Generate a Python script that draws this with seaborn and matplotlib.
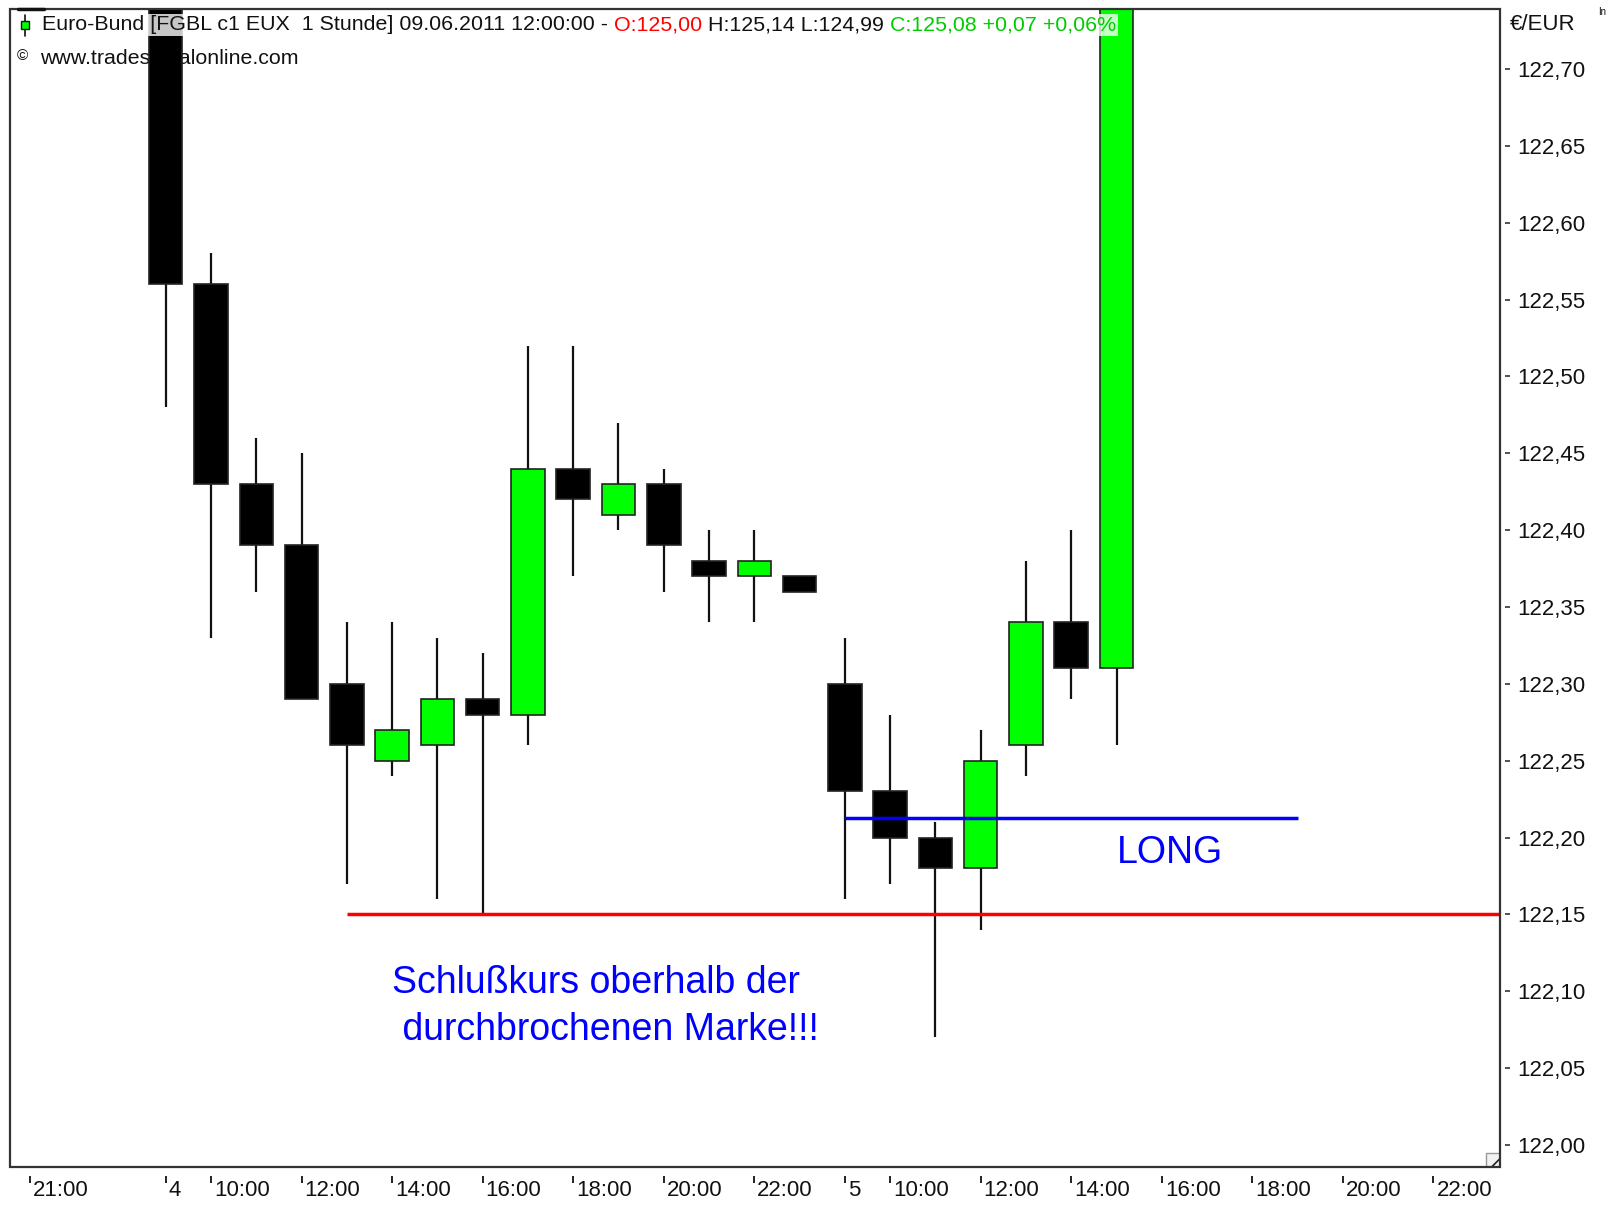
import matplotlib
matplotlib.use('Agg')
import matplotlib.pyplot as plt
from matplotlib.patches import Rectangle
from matplotlib.transforms import ScaledTranslation, Bbox
import seaborn as sns
import numpy as np

# Euro-Bund hourly bars (slot 0 = first bar of the 4th)
slots = list(range(22))
opens = [122.80, 122.56, 122.43, 122.39, 122.30, 122.25, 122.26, 122.29, 122.28, 122.44, 122.41,
         122.43, 122.38, 122.37, 122.37, 122.30, 122.23, 122.20, 122.18, 122.26, 122.34, 122.31]
highs = [122.82, 122.58, 122.46, 122.45, 122.34, 122.34, 122.33, 122.32, 122.52, 122.52, 122.47,
         122.44, 122.40, 122.40, 122.37, 122.33, 122.28, 122.21, 122.27, 122.38, 122.40, 122.82]
lows = [122.48, 122.33, 122.36, 122.29, 122.17, 122.24, 122.16, 122.15, 122.26, 122.37, 122.40,
        122.36, 122.34, 122.34, 122.36, 122.16, 122.17, 122.07, 122.14, 122.24, 122.29, 122.26]
closes = [122.56, 122.43, 122.39, 122.29, 122.26, 122.27, 122.29, 122.28, 122.44, 122.42, 122.43,
          122.39, 122.37, 122.38, 122.36, 122.23, 122.20, 122.18, 122.25, 122.34, 122.31, 122.80]

tick_slots = [-3, 0, 1, 3, 5, 7, 9, 11, 13, 15, 16, 18, 20, 22, 24, 26, 28]
tick_labels = ['21:00', '4', '10:00', '12:00', '14:00', '16:00', '18:00', '20:00', '22:00',
               '5', '10:00', '12:00', '14:00', '16:00', '18:00', '20:00', '22:00']
price_ticks = np.round(np.arange(122.00, 122.701, 0.05), 2)

# drawn levels
support_level = 122.15
support_start = 4
long_level = 122.2125
long_start, long_end = 15, 25

sns.set_theme(style='white')
plt.rcParams['font.family'] = ['Liberation Sans', 'DejaVu Sans']

W, H = 1615, 1209
fig = plt.figure(figsize=(W / 100, H / 100), dpi=100)
fig.patch.set_facecolor('white')
ax = fig.add_axes([10 / W, 1 - 1167 / H, 1490 / W, 1158 / H])
ax.set_facecolor('white')

xmin, xmax = -3.44, 29.47
ax.set_xlim(xmin, xmax)
ax.set_ylim(121.9857, 122.739)

# candles
o = np.array(opens)
c = np.array(closes)
body_colors = np.where(c > o, '#00ff00', '#000000')
ax.vlines(slots, lows, highs, color='#111111', lw=1.6, zorder=2)
ax.bar(slots, np.abs(c - o), bottom=np.minimum(o, c), width=0.74, color=body_colors,
       edgecolor='#222222', linewidth=1.2, zorder=3)

# support / entry lines
ax.hlines(support_level, support_start, xmax, color='#ff0000', lw=2.5, zorder=4)
ax.hlines(long_level, long_start, long_end, color='#0000ff', lw=2.5, zorder=4)

ax.text(21, 122.1835, 'LONG', color='#0000ff', fontsize=27, va='baseline', ha='left', zorder=5)
ax.text(5, 122.099, 'Schlußkurs oberhalb der', color='#0000ff', fontsize=27, va='baseline', zorder=5)
ax.text(5, 122.0683, ' durchbrochenen Marke!!!', color='#0000ff', fontsize=27, va='baseline', zorder=5)

# axes styling
ax.grid(False)
for s in ax.spines.values():
    s.set_visible(False)
ax.spines['bottom'].set_position(('outward', 6.5))
ax.spines['right'].set_position(('outward', 3.6))
ax.yaxis.tick_right()
ax.set_yticks(price_ticks)
ax.set_yticklabels([f'{v:.2f}'.replace('.', ',') for v in price_ticks])
ax.set_xticks(tick_slots)
ax.set_xticklabels(tick_labels)
ax.tick_params(axis='x', bottom=True, direction='out', length=5, width=1.4, color='#222222',
               pad=-2.5, labelsize=16, labelcolor='#111111')
ax.tick_params(axis='y', right=True, left=False, direction='out', length=3.6, width=1.1,
               color='#222222', pad=5.5, labelsize=16, labelcolor='#111111')
for lab in ax.get_xticklabels():
    lab.set_ha('left')
    lab.set_transform(lab.get_transform() + ScaledTranslation(0.03, 0, fig.dpi_scale_trans))

ax.add_patch(Rectangle((0, 0), 1, 1, transform=ax.transAxes, fill=False, lw=1.6,
                       edgecolor='#333333', clip_on=False, zorder=10))
# little resize grip in the lower right corner
gw, gh = 14 / 1490, 14 / 1158
ax.add_patch(Rectangle((1 - gw, 0), gw, gh, transform=ax.transAxes, facecolor='#f2f2f2',
                       edgecolor='#999999', lw=1, zorder=9))
ax.plot([1 - gw * 0.6, 1], [0, gh * 0.6], transform=ax.transAxes, color='#222222', lw=1.2, zorder=9)

# header texts
ff = fig.transFigure
hs = 15.4
t1 = ax.text(42 / W, 1 - 25 / H, 'Euro-Bund [FGBL c1 EUX  1 Stunde] 09.06.2011 12:00:00 -',
             transform=ff, va='center', ha='left', fontsize=hs, color='#111111', zorder=7)
pieces = [t1]
for s, col in [(' O:125,00', '#ff0000'), (' H:125,14 L:124,99', '#111111'),
               (' C:125,08 +0,07 +0,06%', '#00cc00')]:
    t = ax.annotate(s, xy=(1, 0), xycoords=pieces[-1], va='bottom', ha='left', fontsize=hs,
                    color=col, zorder=7, annotation_clip=False)
    pieces.append(t)
ax.plot([25 / W, 25 / W], [1 - 15 / H, 1 - 36 / H], transform=ff, color='#111111', lw=1.2,
        zorder=7, clip_on=False)
ax.plot([25 / W], [1 - 25 / H], transform=ff, marker='s', ms=6, mfc='#00ff00', mec='#111111',
        mew=1, zorder=8, clip_on=False)
ax.plot([18 / W, 44 / W], [1 - 9 / H, 1 - 9 / H], transform=ff, color='#111111', lw=2.5,
        zorder=11, clip_on=False)

ax.text(17 / W, 1 - 56 / H, '©', transform=ff, va='center', fontsize=11, color='#111111', zorder=1)
ax.text(40 / W, 1 - 58 / H, 'www.tradesignalonline.com', transform=ff, va='center', fontsize=hs,
        color='#111111', zorder=1)

fig.text(1510 / W, 1 - 25 / H, '€/EUR', va='center', ha='left', fontsize=16, color='#111111')
fig.text(1598 / W, 1 - 12 / H, 'In', va='center', ha='left', fontsize=7, color='#111111')

# translucent backdrop behind the first header line
fig.canvas.draw()
r = fig.canvas.get_renderer()
bb = Bbox.union([p.get_window_extent(r) for p in pieces])
inv = ff.inverted()
(x0, y0), (x1, y1) = inv.transform([(ax.get_window_extent(r).x0 + 2, bb.y0 - 1), (bb.x1 + 2, bb.y1 + 1)])
ax.add_patch(Rectangle((x0, y0), x1 - x0, y1 - y0, transform=ff, facecolor='white', alpha=0.78,
                       edgecolor='none', zorder=6, clip_on=False))

fig.savefig('out.png', dpi=100)
